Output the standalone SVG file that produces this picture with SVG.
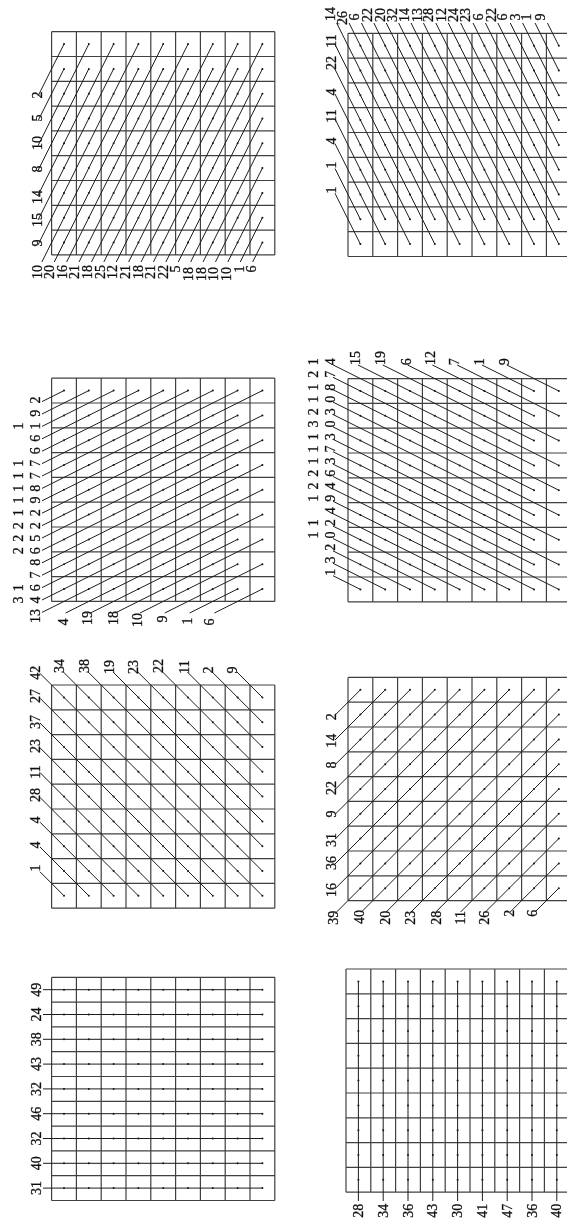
<svg xmlns="http://www.w3.org/2000/svg" xmlns:xlink="http://www.w3.org/1999/xlink" width="567" height="1224" viewBox="0 0 567 1224">
<style>
.grid{fill:none;stroke:#404040;stroke-width:1.2}
.ray{fill:none;stroke:#1c1c1c;stroke-width:1}
.dot{fill:#111}
text{font-family:"Liberation Serif","Times New Roman",serif;font-size:14px;fill:#111;stroke:#111;stroke-width:.3;text-anchor:middle;dominant-baseline:central}
</style>
<defs>
<filter id="soft" x="0" y="0" width="100%" height="100%"><feGaussianBlur stdDeviation="0.4"/></filter>
<path id="g" class="grid" d="M0 0H223.2M0 24.8H223.2M0 49.6H223.2M0 74.4H223.2M0 99.2H223.2M0 124H223.2M0 148.8H223.2M0 173.6H223.2M0 198.4H223.2M0 223.2H223.2M0 0V223.2M24.8 0V223.2M49.6 0V223.2M74.4 0V223.2M99.2 0V223.2M124 0V223.2M148.8 0V223.2M173.6 0V223.2M198.4 0V223.2M223.2 0V223.2"/>
<g id="r" class="dot"><circle cx="12.4" cy="12.4" r="1"/><circle cx="37.2" cy="12.4" r="1"/><circle cx="62" cy="12.4" r="1"/><circle cx="86.8" cy="12.4" r="1"/><circle cx="111.6" cy="12.4" r="1"/><circle cx="136.4" cy="12.4" r="1"/><circle cx="161.2" cy="12.4" r="1"/><circle cx="186" cy="12.4" r="1"/><circle cx="210.8" cy="12.4" r="1"/></g>
<g id="cell"><use href="#g"/><use href="#r"/><use href="#r" y="24.8"/><use href="#r" y="49.6"/><use href="#r" y="74.4"/><use href="#r" y="99.2"/><use href="#r" y="124"/><use href="#r" y="148.8"/><use href="#r" y="173.6"/><use href="#r" y="198.4"/></g>
</defs>
<rect width="567" height="1224" fill="#fff"/>
<g filter="url(#soft)">
<g id="panel-1"><use href="#cell" x="51.6" y="31.7"/>
<text transform="translate(37 95) rotate(-90)">2</text><text transform="translate(37 118) rotate(-90)">5</text><text transform="translate(37 143) rotate(-90)">10</text><text transform="translate(37 169) rotate(-90)">8</text><text transform="translate(37 197) rotate(-90)">14</text><text transform="translate(37 220) rotate(-90)">15</text><text transform="translate(37 243) rotate(-90)">9</text>
<text transform="translate(37 272) rotate(-90)">10</text><text transform="translate(49.6 272) rotate(-90)">20</text><text transform="translate(62.3 272) rotate(-90)">16</text><text transform="translate(74.9 272) rotate(-90)">21</text><text transform="translate(87.5 272) rotate(-90)">18</text><text transform="translate(100.2 272) rotate(-90)">25</text><text transform="translate(112.8 272) rotate(-90)">12</text><text transform="translate(125.4 272) rotate(-90)">21</text><text transform="translate(138 272) rotate(-90)">18</text><text transform="translate(150.7 272) rotate(-90)">21</text><text transform="translate(163.3 272) rotate(-90)">22</text><text transform="translate(175.9 269) rotate(-90)">5</text><text transform="translate(188.6 274) rotate(-90)">18</text><text transform="translate(201.2 274) rotate(-90)">18</text><text transform="translate(213.8 274) rotate(-90)">10</text><text transform="translate(226.5 274) rotate(-90)">10</text><text transform="translate(239.1 269) rotate(-90)">1</text><text transform="translate(251.7 269) rotate(-90)">6</text>
</g>
<g id="panel-2"><use href="#cell" x="348" y="33.3"/>
<text transform="translate(331 190) rotate(-90)">1</text><text transform="translate(331 165) rotate(-90)">1</text><text transform="translate(331 141) rotate(-90)">4</text><text transform="translate(331 116) rotate(-90)">11</text><text transform="translate(331 92) rotate(-90)">4</text><text transform="translate(331 63) rotate(-90)">22</text><text transform="translate(331 41) rotate(-90)">11</text>
<text transform="translate(330 14) rotate(-90)">14</text><text transform="translate(342 18) rotate(-90)">26</text><text transform="translate(354 17) rotate(-90)">6</text><text transform="translate(367 15) rotate(-90)">22</text><text transform="translate(380 15) rotate(-90)">20</text><text transform="translate(392 15) rotate(-90)">32</text><text transform="translate(404 15) rotate(-90)">14</text><text transform="translate(417 15) rotate(-90)">13</text><text transform="translate(428 15) rotate(-90)">28</text><text transform="translate(441 15) rotate(-90)">12</text><text transform="translate(453 15) rotate(-90)">24</text><text transform="translate(465 15) rotate(-90)">23</text><text transform="translate(478 17) rotate(-90)">6</text><text transform="translate(491 15) rotate(-90)">22</text><text transform="translate(502 17) rotate(-90)">6</text><text transform="translate(515 17) rotate(-90)">3</text><text transform="translate(526 17) rotate(-90)">1</text><text transform="translate(540 17) rotate(-90)">9</text>
</g>
<g id="panel-3"><use href="#cell" x="51.6" y="378.2"/>
<text transform="translate(35 400) rotate(-90)">2</text><text transform="translate(35 413.3) rotate(-90)">9</text><text transform="translate(35 426) rotate(-90)">1</text><text transform="translate(35 438.3) rotate(-90)">6</text><text transform="translate(35 450.7) rotate(-90)">6</text><text transform="translate(35 463.3) rotate(-90)">7</text><text transform="translate(35 475.7) rotate(-90)">7</text><text transform="translate(35 488.3) rotate(-90)">8</text><text transform="translate(35 500) rotate(-90)">9</text><text transform="translate(35 512.7) rotate(-90)">2</text><text transform="translate(35 525.7) rotate(-90)">2</text><text transform="translate(35 538.3) rotate(-90)">5</text><text transform="translate(35 550.7) rotate(-90)">6</text><text transform="translate(35 562.3) rotate(-90)">8</text><text transform="translate(35 575) rotate(-90)">7</text><text transform="translate(35 587.7) rotate(-90)">6</text><text transform="translate(35 600) rotate(-90)">4</text>
<text transform="translate(18 426) rotate(-90)">1</text><text transform="translate(18 463.3) rotate(-90)">1</text><text transform="translate(18 475.7) rotate(-90)">1</text><text transform="translate(18 488.3) rotate(-90)">1</text><text transform="translate(18 500) rotate(-90)">1</text><text transform="translate(18 512.7) rotate(-90)">1</text><text transform="translate(18 525.7) rotate(-90)">2</text><text transform="translate(18 538.3) rotate(-90)">2</text><text transform="translate(18 550.7) rotate(-90)">2</text><text transform="translate(18 587.7) rotate(-90)">1</text><text transform="translate(18 600) rotate(-90)">3</text>
<text transform="translate(35 616) rotate(-90)">13</text><text transform="translate(63 622) rotate(-90)">4</text><text transform="translate(87 618) rotate(-90)">19</text><text transform="translate(113 618) rotate(-90)">18</text><text transform="translate(137 620) rotate(-90)">10</text><text transform="translate(162 619) rotate(-90)">9</text><text transform="translate(187 621) rotate(-90)">1</text><text transform="translate(209 622) rotate(-90)">6</text>
</g>
<g id="panel-4"><use href="#cell" x="348" y="378.6"/>
<text transform="translate(330 361.7) rotate(-90)">4</text><text transform="translate(330 374.3) rotate(-90)">7</text><text transform="translate(330 387.3) rotate(-90)">8</text><text transform="translate(330 399.3) rotate(-90)">0</text><text transform="translate(330 411.7) rotate(-90)">3</text><text transform="translate(330 424) rotate(-90)">0</text><text transform="translate(330 436.7) rotate(-90)">3</text><text transform="translate(330 449) rotate(-90)">7</text><text transform="translate(330 461) rotate(-90)">3</text><text transform="translate(330 473.3) rotate(-90)">6</text><text transform="translate(330 486) rotate(-90)">4</text><text transform="translate(330 498.3) rotate(-90)">9</text><text transform="translate(330 510.7) rotate(-90)">4</text><text transform="translate(330 522.7) rotate(-90)">2</text><text transform="translate(330 535) rotate(-90)">0</text><text transform="translate(330 547.3) rotate(-90)">2</text><text transform="translate(330 560) rotate(-90)">3</text><text transform="translate(330 572.3) rotate(-90)">1</text>
<text transform="translate(313 361.7) rotate(-90)">1</text><text transform="translate(313 374.3) rotate(-90)">2</text><text transform="translate(313 387.3) rotate(-90)">1</text><text transform="translate(313 399.3) rotate(-90)">1</text><text transform="translate(313 411.7) rotate(-90)">2</text><text transform="translate(313 424) rotate(-90)">3</text><text transform="translate(313 436.7) rotate(-90)">1</text><text transform="translate(313 449) rotate(-90)">1</text><text transform="translate(313 461) rotate(-90)">1</text><text transform="translate(313 473.3) rotate(-90)">2</text><text transform="translate(313 486) rotate(-90)">2</text><text transform="translate(313 498.3) rotate(-90)">1</text><text transform="translate(313 522.7) rotate(-90)">1</text><text transform="translate(313 535) rotate(-90)">1</text>
<text transform="translate(355 358) rotate(-90)">15</text><text transform="translate(380.7 358) rotate(-90)">19</text><text transform="translate(406 361.7) rotate(-90)">6</text><text transform="translate(430.7 358) rotate(-90)">12</text><text transform="translate(454 361.7) rotate(-90)">7</text><text transform="translate(479 361.7) rotate(-90)">1</text><text transform="translate(504 361.7) rotate(-90)">9</text>
</g>
<g id="panel-5"><use href="#cell" x="51.6" y="685"/>
<text transform="translate(35 672.7) rotate(-90)">42</text><text transform="translate(59.3 666) rotate(-90)">34</text><text transform="translate(84 666) rotate(-90)">38</text><text transform="translate(109 667) rotate(-90)">19</text><text transform="translate(133 667) rotate(-90)">23</text><text transform="translate(158 666) rotate(-90)">22</text><text transform="translate(184 667) rotate(-90)">11</text><text transform="translate(208 670) rotate(-90)">2</text><text transform="translate(232 670) rotate(-90)">9</text>
<text transform="translate(35 696) rotate(-90)">27</text><text transform="translate(35 722) rotate(-90)">37</text><text transform="translate(35 746) rotate(-90)">23</text><text transform="translate(35 772) rotate(-90)">11</text><text transform="translate(35 795) rotate(-90)">28</text><text transform="translate(35 820) rotate(-90)">4</text><text transform="translate(35 845) rotate(-90)">4</text><text transform="translate(35 868) rotate(-90)">1</text>
</g>
<g id="panel-6"><use href="#cell" x="348" y="677.4"/>
<text transform="translate(331 716.7) rotate(-90)">2</text><text transform="translate(331 740.7) rotate(-90)">14</text><text transform="translate(331 765) rotate(-90)">8</text><text transform="translate(331 788) rotate(-90)">22</text><text transform="translate(331 814) rotate(-90)">9</text><text transform="translate(331 840) rotate(-90)">31</text><text transform="translate(331 863) rotate(-90)">36</text><text transform="translate(331 890) rotate(-90)">16</text>
<text transform="translate(333.3 917.7) rotate(-90)">39</text><text transform="translate(359.3 917) rotate(-90)">40</text><text transform="translate(385 917.7) rotate(-90)">20</text><text transform="translate(410 917.7) rotate(-90)">23</text><text transform="translate(436.7 917.7) rotate(-90)">28</text><text transform="translate(460 917.7) rotate(-90)">11</text><text transform="translate(484 917.7) rotate(-90)">26</text><text transform="translate(509 913.3) rotate(-90)">2</text><text transform="translate(532.7 913.3) rotate(-90)">6</text>
</g>
<g id="panel-7"><use href="#cell" x="51.6" y="977.3"/>
<text transform="translate(36 989.7) rotate(-90)">49</text><text transform="translate(36 1014.5) rotate(-90)">24</text><text transform="translate(36 1039.3) rotate(-90)">38</text><text transform="translate(36 1064.1) rotate(-90)">43</text><text transform="translate(36 1088.9) rotate(-90)">32</text><text transform="translate(36 1113.7) rotate(-90)">46</text><text transform="translate(36 1138.5) rotate(-90)">32</text><text transform="translate(36 1163.3) rotate(-90)">40</text><text transform="translate(36 1188.1) rotate(-90)">31</text>
</g>
<g id="panel-8"><use href="#cell" x="346" y="969"/>
<text transform="translate(358.4 1210.7) rotate(-90)">28</text><text transform="translate(383.2 1210.7) rotate(-90)">34</text><text transform="translate(408 1210.7) rotate(-90)">36</text><text transform="translate(432.8 1210.7) rotate(-90)">43</text><text transform="translate(457.6 1210.7) rotate(-90)">30</text><text transform="translate(482.4 1210.7) rotate(-90)">41</text><text transform="translate(507.2 1210.7) rotate(-90)">47</text><text transform="translate(532 1210.7) rotate(-90)">36</text><text transform="translate(556.8 1210.7) rotate(-90)">40</text>
</g>
<g id="connectors" class="ray">
<path d="M64 44.1L38 96.1M64 68.9L38 120.9M88.8 44.1L38 145.7M88.8 68.9L38 170.5M113.6 44.1L38 195.3M113.6 68.9L38 220.1M138.4 44.1L38 244.9M138.4 68.9L41.85 262M163.2 44.1L54.25 262M163.2 68.9L66.65 262M188 44.1L79.05 262M188 68.9L91.45 262M212.8 44.1L103.85 262M212.8 68.9L116.25 262M237.6 44.1L128.65 262M237.6 68.9L141.05 262M262.4 44.1L153.45 262M262.4 68.9L165.85 262M262.4 93.7L178.25 262M262.4 118.5L190.65 262M262.4 143.3L203.05 262M262.4 168.1L215.45 262M262.4 192.9L227.85 262M262.4 217.7L240.25 262M262.4 242.5L252.65 262"/>
<path d="M360.4 244.1L335 193.3M360.4 219.3L335 168.5M385.2 244.1L335 143.7M385.2 219.3L335 118.9M410 244.1L335 94.1M410 219.3L335 69.3M434.8 244.1L335 44.5M434.8 219.3L336.65 23M459.6 244.1L349.05 23M459.6 219.3L361.45 23M484.4 244.1L373.85 23M484.4 219.3L386.25 23M509.2 244.1L398.65 23M509.2 219.3L411.05 23M534 244.1L423.45 23M534 219.3L435.85 23M558.8 244.1L448.25 23M558.8 219.3L460.65 23M558.8 194.5L473.05 23M558.8 169.7L485.45 23M558.8 144.9L497.85 23M558.8 120.1L510.25 23M558.8 95.3L522.65 23M558.8 70.5L535.05 23M558.8 45.7L547.45 23"/>
<path d="M64 390.6L42 401.6M88.8 390.6L42 414M113.6 390.6L42 426.4M138.4 390.6L42 438.8M163.2 390.6L42 451.2M188 390.6L42 463.6M212.8 390.6L42 476M237.6 390.6L42 488.4M262.4 390.6L42 500.8M237.6 415.4L42 513.2M262.4 415.4L42 525.6M237.6 440.2L42 538M262.4 440.2L42 550.4M237.6 465L42 562.8M262.4 465L42 575.2M237.6 489.8L42 587.6M262.4 489.8L42 600M237.6 514.6L42 612.4M262.4 514.6L65.6 613M237.6 539.4L90.4 613M262.4 539.4L115.2 613M237.6 564.2L140 613M262.4 564.2L164.8 613M237.6 589L189.6 613M262.4 589L214.4 613"/>
<path d="M558.8 391L506.8 365M534 391L482 365M558.8 415.8L457.2 365M534 415.8L432.4 365M558.8 440.6L407.6 365M534 440.6L382.8 365M558.8 465.4L358 365M534 465.4L333 364.9M558.8 490.2L333 377.3M534 490.2L333 389.7M558.8 515L333 402.1M534 515L333 414.5M558.8 539.8L333 426.9M534 539.8L333 439.3M558.8 564.6L333 451.7M534 564.6L333 464.1M558.8 589.4L333 476.5M534 589.4L333 488.9M509.2 589.4L333 501.3M484.4 589.4L333 513.7M459.6 589.4L333 526.1M434.8 589.4L333 538.5M410 589.4L333 550.9M385.2 589.4L333 563.3M360.4 589.4L333 575.7"/>
<path d="M262.4 895.8L40 673.4M237.6 895.8L40 698.2M212.8 895.8L40 723M188 895.8L40 747.8M163.2 895.8L40 772.6M138.4 895.8L40 797.4M113.6 895.8L40 822.2M88.8 895.8L40 847M64 895.8L40 871.8M262.4 871L63.4 672M262.4 846.2L88.2 672M262.4 821.4L113 672M262.4 796.6L137.8 672M262.4 771.8L162.6 672M262.4 747L187.4 672M262.4 722.2L212.2 672M262.4 697.4L237 672"/>
<path d="M360.4 689.8L335 715.2M385.2 689.8L335 740M410 689.8L335 764.8M434.8 689.8L335 789.6M459.6 689.8L335 814.4M484.4 689.8L335 839.2M509.2 689.8L335 864M534 689.8L335 888.8M558.8 689.8L335 913.6M558.8 714.6L361.4 912M558.8 739.4L386.2 912M558.8 764.2L411 912M558.8 789L435.8 912M558.8 813.8L460.6 912M558.8 838.6L485.4 912M558.8 863.4L510.2 912M558.8 888.2L535 912"/>
<path d="M262.4 989.7H43M262.4 1014.5H43M262.4 1039.3H43M262.4 1064.1H43M262.4 1088.9H43M262.4 1113.7H43M262.4 1138.5H43M262.4 1163.3H43M262.4 1188.1H43"/>
<path d="M358.4 981.4V1201M383.2 981.4V1201M408 981.4V1201M432.8 981.4V1201M457.6 981.4V1201M482.4 981.4V1201M507.2 981.4V1201M532 981.4V1201M556.8 981.4V1201"/>
</g>
</g>
</svg>
